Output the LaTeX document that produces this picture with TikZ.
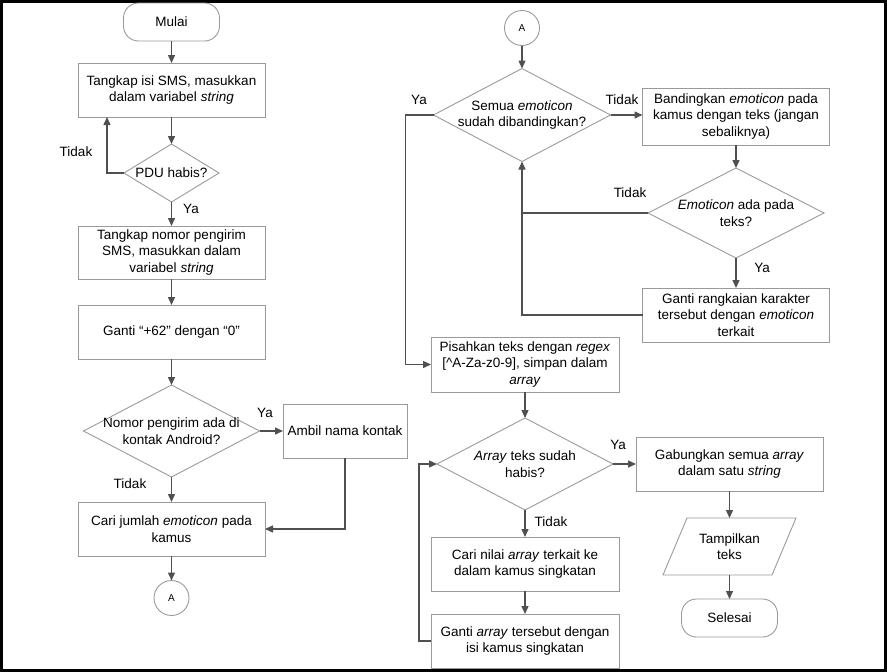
\documentclass[tikz,border=0pt]{standalone}
\usepackage{fontspec}
\setmainfont{Liberation Sans}
\usetikzlibrary{shapes.geometric,arrows.meta}
\definecolor{flowline}{HTML}{505050}
\definecolor{flowedge}{HTML}{9A9A9A}
\tikzset{
  base/.style={draw=flowedge, line width=0.9pt, inner sep=2pt, outer sep=0pt,
               align=center, font=\fontsize{13.5}{16.5}\selectfont},
  procbox/.style={base, rectangle, minimum width=187pt, minimum height=54pt},
  termbox/.style={base, rectangle, rounded corners=15pt,
                  minimum width=96pt, minimum height=38pt},
  iobox/.style={base, draw=none, rectangle, minimum width=109pt, minimum height=57pt},
  ioedge/.style={draw=flowedge, line width=0.9pt},
  joinpt/.style={base, circle, minimum size=35pt, inner sep=0pt,
                 font=\fontsize{10}{12}\selectfont},
  decision/.style 2 args={base, diamond, minimum width=#1, minimum height=#2, inner sep=0pt},
  choicetext/.style={align=center, font=\fontsize{13.5}{16.5}\selectfont, inner sep=0pt},
  answer/.style={font=\fontsize{13.5}{16.5}\selectfont, inner sep=0pt},
  flow/.style={draw=flowline, line width=1.4pt},
  flowarrow/.style={flow, -{Triangle[length=8pt,width=7pt]}},
}
\begin{document}
\begin{tikzpicture}[x=1pt, y=-1pt]
    \useasboundingbox (0,0) rectangle (887,672);
    \draw[line width=3pt] (1.5,1.5) rectangle (885.5,670.5);
    \node[termbox] (mulai) at (171.5,22) {Mulai};
    \node[procbox] (isi) at (171.5,90) {Tangkap isi SMS, masukkan\\dalam variabel \textit{string}};
    \node[decision={95pt}{58pt}, label={[choicetext]center:PDU habis?}] (pdu) at (171.5,173) {};
    \node[procbox, minimum height=53pt] (nomor) at (171.5,252.5) {Tangkap nomor pengirim\\SMS, masukkan dalam\\variabel \textit{string}};
    \node[procbox] (ganti) at (171.5,332) {Ganti “+62” dengan “0”};
    \node[decision={176pt}{92pt}, label={[choicetext]center:Nomor pengirim ada di\\kontak Android?}] (kontak) at (171.5,431) {};
    \node[procbox, minimum width=124pt] (ambil) at (345,431) {Ambil nama kontak};
    \node[procbox] (jumlah) at (171.5,529) {Cari jumlah \textit{emoticon} pada\\kamus};
    \node[joinpt] (a1) at (171.5,598) {A};
    \node[joinpt] (a2) at (522,28) {A};
    \node[decision={177pt}{93pt}, label={[choicetext]center:Semua \textit{emoticon}\\sudah dibandingkan?}] (semua) at (522,115) {};
    \node[procbox, minimum height=57pt] (banding) at (736,116.5) {Bandingkan \textit{emoticon} pada\\kamus dengan teks (jangan\\sebaliknya)};
    \node[decision={176pt}{90pt}, label={[choicetext]center:\textit{Emoticon} ada pada\\teks?}] (ada) at (736,213) {};
    \node[procbox] (rangkai) at (736,315) {Ganti rangkaian karakter\\tersebut dengan \textit{emoticon}\\terkait};
    \node[procbox, minimum width=188pt, minimum height=55pt] (pisah) at (525,364.5) {Pisahkan teks dengan \textit{regex}\\{}[\textasciicircum A-Za-z0-9], simpan dalam\\\textit{array}};
    \node[decision={176pt}{92pt}, label={[choicetext]center:\textit{Array} teks sudah\\habis?}] (habis) at (525,464) {};
    \node[procbox] (gabung) at (729.5,464) {Gabungkan semua \textit{array}\\dalam satu \textit{string}};
    \node[procbox, minimum width=188pt] (nilai) at (525,564) {Cari nilai \textit{array} terkait ke\\dalam kamus singkatan};
    \node[procbox, minimum width=188pt] (isikamus) at (525,641) {Ganti \textit{array} tersebut dengan\\isi kamus singkatan};
    \node[iobox] (tampil) at (729.5,546.5) {Tampilkan\\teks};
    \draw[ioedge] ([xshift=12pt]tampil.north west) -- ([xshift=12pt]tampil.north east)
        -- ([xshift=-12pt]tampil.south east) -- ([xshift=-12pt]tampil.south west) -- cycle;
    \node[termbox] (selesai) at (729.5,618) {Selesai};
    \node[answer] (t1) at (76,152) {Tidak};
    \node[answer] (y1) at (191,209) {Ya};
    \node[answer] (y2) at (265,413) {Ya};
    \node[answer] (t2) at (130,484) {Tidak};
    \node[answer] (y3) at (419,100) {Ya};
    \node[answer] (t3) at (622,100) {Tidak};
    \node[answer] (t4) at (630,193) {Tidak};
    \node[answer] (y4) at (762,268) {Ya};
    \node[answer] (y5) at (618,445) {Ya};
    \node[answer] (t5) at (551,522) {Tidak};
    \draw[flowarrow] (mulai.south) -- (isi.north);
    \draw[flowarrow] (isi.south) -- (pdu.north);
    \draw[flowarrow] (pdu.west) -| ([xshift=-64.5pt]isi.south);
    \draw[flowarrow] (pdu.south) -- (nomor.north);
    \draw[flowarrow] (nomor.south) -- (ganti.north);
    \draw[flowarrow] (ganti.south) -- (kontak.north);
    \draw[flowarrow] (kontak.east) -- (ambil.west);
    \draw[flowarrow] (ambil.south) |- (jumlah.east);
    \draw[flowarrow] (kontak.south) -- (jumlah.north);
    \draw[flowarrow] (jumlah.south) -- (a1.north);
    \draw[flowarrow] (a2.south) -- (semua.north);
    \draw[flowarrow] (semua.east) -- (semua.east -| banding.west);
    \draw[flowarrow] (banding.south) -- (ada.north);
    \draw[flow] (ada.west) -- (ada.west -| semua.south);
    \draw[flowarrow] (ada.south) -- (rangkai.north);
    \draw[flowarrow] (rangkai.west) -| (semua.south);
    \draw[flowarrow] (semua.west) -- ++(-28,0) |- (pisah.west);
    \draw[flowarrow] (pisah.south) -- (habis.north);
    \draw[flowarrow] (habis.east) -- (gabung.west);
    \draw[flowarrow] (gabung.south) -- (tampil.north);
    \draw[flowarrow] (tampil.south) -- (selesai.north);
    \draw[flowarrow] (habis.south) -- (nilai.north);
    \draw[flowarrow] (nilai.south) -- (isikamus.north);
    \draw[flowarrow] (isikamus.west) -- ++(-12,0) |- (habis.west);
\end{tikzpicture}
\end{document}
